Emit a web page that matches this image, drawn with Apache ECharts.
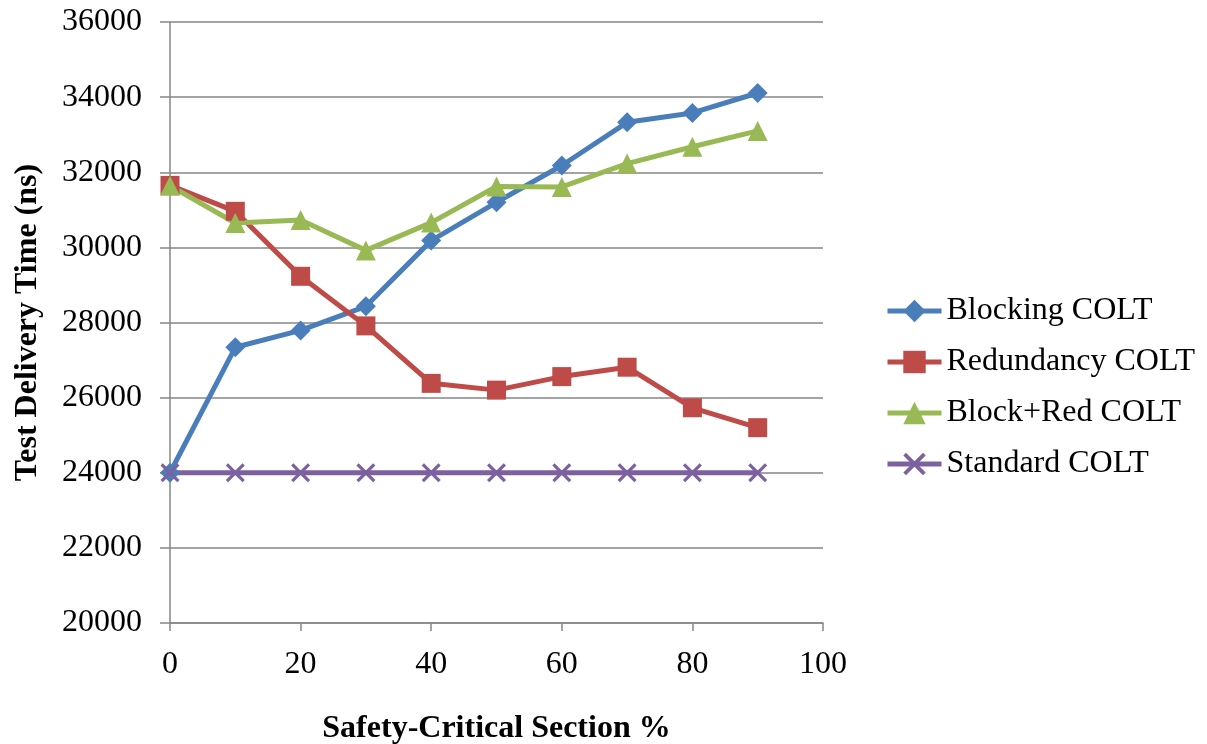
<!DOCTYPE html>
<html>
<head>
<meta charset="utf-8">
<script src="https://cdn.jsdelivr.net/npm/echarts@6/dist/echarts.min.js"></script>
<style>html,body{margin:0;padding:0;background:#fff}#c{width:1207px;height:744px}</style>
</head>
<body>
<div id="c"></div>
<script>
const xValues = [0, 10, 20, 30, 40, 50, 60, 70, 80, 90];
const blocking = [24000, 27340, 27790, 28430, 30180, 31200, 32180, 33330, 33580, 34110];
const redundancy = [31650, 30960, 29230, 27910, 26380, 26200, 26560, 26810, 25730, 25200];
const blockRed = [31640, 30650, 30730, 29920, 30660, 31620, 31610, 32230, 32680, 33100];
const standard = [24000, 24000, 24000, 24000, 24000, 24000, 24000, 24000, 24000, 24000];
const seriesNames = ['Blocking COLT', 'Redundancy COLT', 'Block+Red COLT', 'Standard COLT'];

const font = '"Liberation Serif", "Times New Roman", serif';
const xPath = 'path://M0,1.2L1.2,0L5,3.8L8.8,0L10,1.2L6.2,5L10,8.8L8.8,10L5,6.2L1.2,10L0,8.8L3.8,5Z';

function pairs(arr){ return xValues.map((x,i)=>[x, arr[i]]); }

const chart = echarts.init(document.getElementById('c'));
chart.setOption({
  animation: false,
  grid: {left: 170, right: 384, top: 22, bottom: 121, containLabel: false, outerBoundsMode: 'none'},
  xAxis: {
    type: 'value', min: 0, max: 100, interval: 20,
    name: 'Safety-Critical Section %', nameLocation: 'middle', nameGap: 90,
    nameTextStyle: {fontFamily: font, fontWeight: 'bold', fontSize: 32, color: '#000'},
    axisLine: {show: true, lineStyle: {color: '#868686', width: 1.5}},
    axisTick: {show: true, length: 8, lineStyle: {color: '#868686', width: 1.5}},
    axisLabel: {fontFamily: font, fontSize: 32, color: '#000', margin: 26},
    splitLine: {show: false}
  },
  yAxis: {
    type: 'value', min: 20000, max: 36000, interval: 2000,
    name: 'Test Delivery Time (ns)', nameLocation: 'middle', nameGap: 126,
    nameTextStyle: {fontFamily: font, fontWeight: 'bold', fontSize: 32, color: '#000'},
    axisLine: {show: true, lineStyle: {color: '#868686', width: 1.5}},
    axisTick: {show: true, length: 10, lineStyle: {color: '#868686', width: 1.5}},
    axisLabel: {fontFamily: font, fontSize: 32, color: '#000', margin: 28, formatter: v => String(v)},
    splitLine: {show: true, lineStyle: {color: '#868686', width: 1.5}}
  },
  legend: {
    orient: 'vertical', left: 880, top: 290,
    itemWidth: 54, itemHeight: 28, itemGap: 19,
    lineStyle: {width: 5},
    textStyle: {fontFamily: font, fontSize: 32, color: '#000'},
    data: seriesNames
  },
  series: [
    {name: seriesNames[0], type: 'line', data: pairs(blocking), symbol: 'diamond', symbolSize: 20,
     lineStyle: {color: '#4a7ebb', width: 5}, itemStyle: {color: '#4a7ebb'}},
    {name: seriesNames[1], type: 'line', data: pairs(redundancy), symbol: 'rect', symbolSize: 19,
     lineStyle: {color: '#be4b48', width: 5}, itemStyle: {color: '#be4b48'}},
    {name: seriesNames[2], type: 'line', data: pairs(blockRed), symbol: 'triangle', symbolSize: 20,
     lineStyle: {color: '#98b954', width: 5}, itemStyle: {color: '#98b954'}},
    {name: seriesNames[3], type: 'line', data: pairs(standard), symbol: xPath, symbolSize: 19,
     lineStyle: {color: '#7d60a0', width: 5}, itemStyle: {color: '#7d60a0'}}
  ]
});
</script>
</body>
</html>
